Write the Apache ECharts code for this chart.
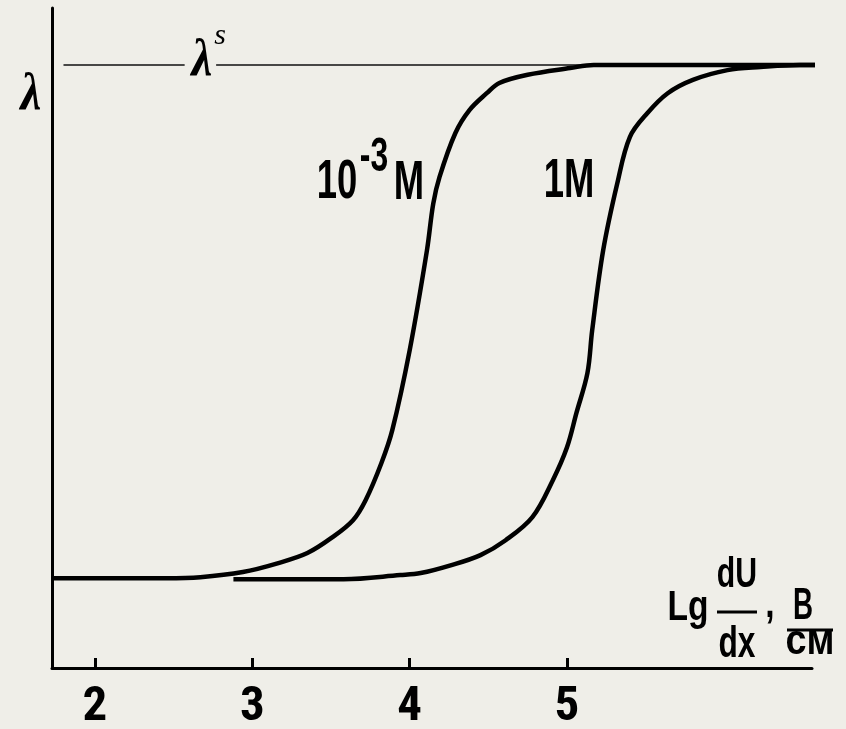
<!DOCTYPE html>
<html>
<head>
<meta charset="utf-8">
<script src="https://cdn.jsdelivr.net/npm/echarts@6/dist/echarts.min.js"></script>
<style>
  html, body { margin: 0; padding: 0; background: #efeee8; }
  #chart { width: 846px; height: 729px; }
</style>
</head>
<body>
<div id="chart"></div>
<script>
// lg(dU/dx) positions and relative lambda (0 = low plateau, 1 = saturation)
var curveLowX = [1.73, 2.45, 2.67, 2.94, 3.16, 3.35, 3.51, 3.64, 3.72, 3.82, 3.89, 4.00, 4.11, 4.15, 4.19, 4.29, 4.38, 4.49, 4.57, 4.75, 5.02, 5.17, 6.65];
var curveLowY = [0, 0, 0.002, 0.012, 0.029, 0.049, 0.080, 0.113, 0.152, 0.224, 0.289, 0.444, 0.639, 0.730, 0.782, 0.867, 0.912, 0.945, 0.965, 0.981, 0.994, 1.0, 1.0];

var curveHighX = [2.88, 3.58, 3.94, 4.07, 4.26, 4.45, 4.61, 4.78, 4.91, 5.00, 5.06, 5.13, 5.16, 5.23, 5.32, 5.40, 5.51, 5.64, 5.80, 6.02, 6.23, 6.48, 6.65];
var curveHighY = [-0.002, -0.002, 0.006, 0.010, 0.025, 0.045, 0.074, 0.119, 0.191, 0.255, 0.322, 0.400, 0.483, 0.639, 0.770, 0.860, 0.906, 0.945, 0.971, 0.990, 0.996, 1.0, 1.0];

// saturation level lambda^s, broken where its label sits
var saturationX = [1.80, 2.57, '-', 2.77, 6.65];
var saturationY = [1, 1, '-', 1, 1];

var tickValues = [2, 3, 4, 5];

function pairs(xs, ys) {
    return xs.map(function (x, i) { return [x, ys[i]]; });
}

function label(text, x, y, size, sx, font) {
    return {
        type: 'text', x: x, y: y, scaleX: sx, z: 10,
        style: {
            text: text,
            font: font || ('bold ' + size + 'px "Liberation Sans", Arial, sans-serif'),
            fill: '#000',
            align: 'center', verticalAlign: 'middle',
            textAlign: 'center', textVerticalAlign: 'middle'
        }
    };
}

function bar(x1, x2, y) {
    return { type: 'line', z: 10, shape: { x1: x1, y1: y, x2: x2, y2: y }, style: { stroke: '#000', lineWidth: 3 } };
}

var chart = echarts.init(document.getElementById('chart'));
var lambdaFont = 'bold italic 52px "Liberation Serif", serif';
var options = {
    backgroundColor: '#efeee8',
    animation: false,
    grid: { left: 52, right: 34, top: 8, bottom: 61, outerBoundsMode: 'none', containLabel: false },
    xAxis: {
        type: 'value',
        min: 1.727,
        max: 6.557,
        axisLine: { onZero: false, lineStyle: { color: '#000', width: 3 } },
        axisTick: { show: true, inside: true, length: 10, customValues: tickValues, lineStyle: { color: '#000', width: 3 } },
        axisLabel: {
            customValues: tickValues,
            color: '#000',
            fontFamily: '"Roboto Condensed", "Liberation Sans", sans-serif',
            fontWeight: 'bold',
            fontSize: 49,
            margin: 15
        },
        splitLine: { show: false }
    },
    yAxis: {
        type: 'value',
        min: -0.175,
        max: 1.111,
        axisLine: { show: true, onZero: false, lineStyle: { color: '#000', width: 3 } },
        axisTick: { show: false },
        axisLabel: { show: false },
        splitLine: { show: false }
    },
    series: [
        {
            type: 'line', data: pairs(saturationX, saturationY), symbol: 'none', clip: false,
            connectNulls: false, lineStyle: { color: '#111', width: 1.5 }
        },
        {
            type: 'line', data: pairs(curveLowX, curveLowY), symbol: 'none', clip: false,
            smooth: 0.35, lineStyle: { color: '#000', width: 4.5 }
        },
        {
            type: 'line', data: pairs(curveHighX, curveHighY), symbol: 'none', clip: false,
            smooth: 0.35, lineStyle: { color: '#000', width: 4.5 }
        }
    ],
    graphic: [
        label('λ', 31, 96, 52, 0.9, lambdaFont),
        label('λ', 202, 62, 52, 0.9, lambdaFont),
        label('s', 220, 36, 30, 1, 'italic 30px "Liberation Serif", serif'),
        label('10', 337, 183, 56, 0.65),
        label('-3', 374, 157, 49, 0.65),
        label('M', 409, 184, 56, 0.65),
        label('1M', 569, 182, 56, 0.65),
        label('Lg', 688, 608, 42, 0.8),
        label('dU', 737, 575, 42, 0.72),
        bar(717, 757, 612),
        label('dx', 737, 645, 44, 0.72),
        label(',', 770, 605, 42, 0.8),
        label('В', 803, 607, 44, 0.63),
        bar(787, 833, 630),
        label('см', 810, 642, 42, 0.9)
    ]
};
chart.setOption(options);
window.onresize = function () {
    chart.resize();
};
</script>
</body>
</html>
